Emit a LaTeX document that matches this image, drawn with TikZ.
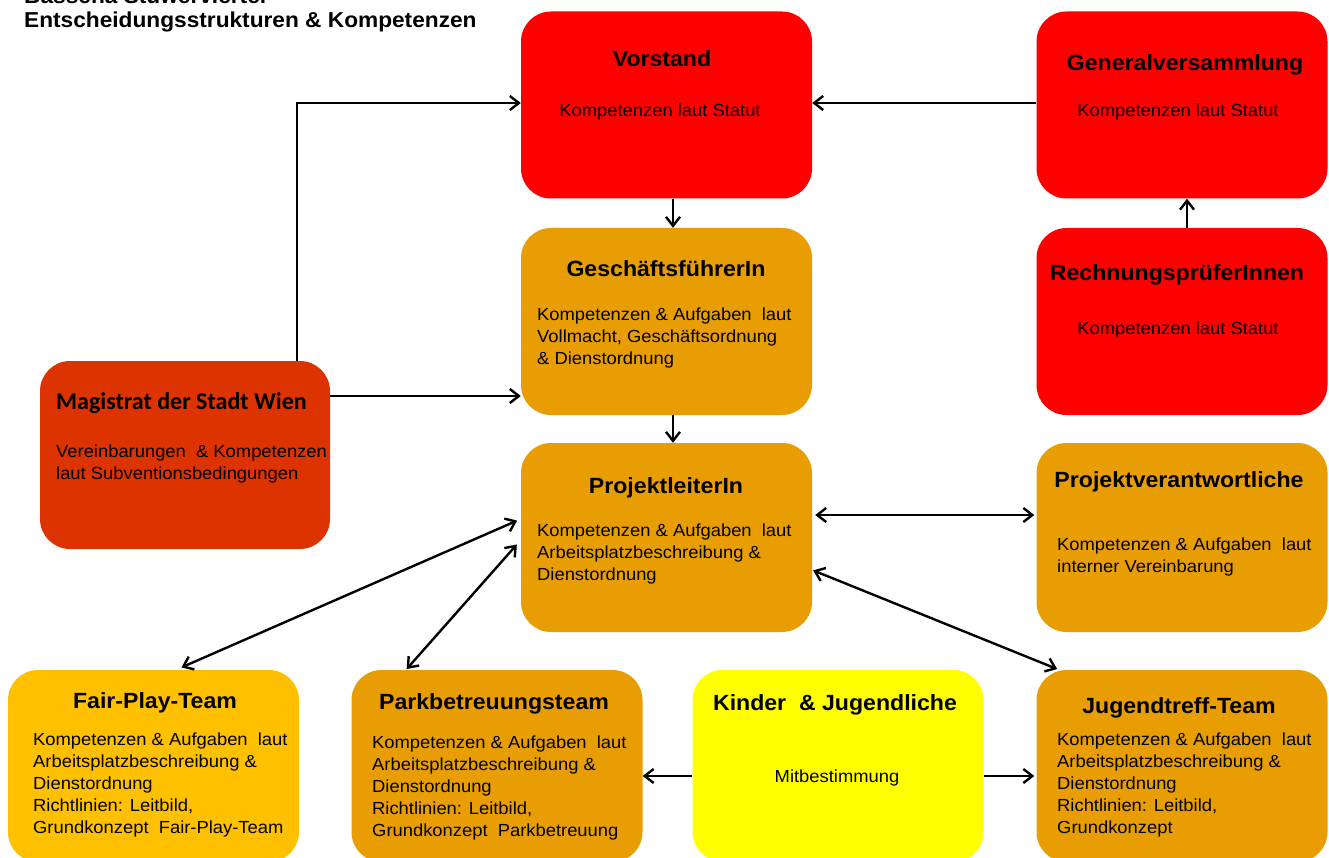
\documentclass[tikz,border=0pt]{standalone}
\usepackage{fontspec}
\setmainfont[FakeStretch=1.05]{Liberation Sans}
\newfontfamily\calfont{Carlito}
\usetikzlibrary{arrows.meta}
\definecolor{cred}{HTML}{FF0000}
\definecolor{corange}{HTML}{E89E02}
\definecolor{cfp}{HTML}{FFC000}
\definecolor{cmag}{HTML}{DC3300}
\definecolor{cyel}{HTML}{FFFF00}
\begin{document}
\begin{tikzpicture}[x=1pt,y=-1pt,
 box/.style={rounded corners=30pt, minimum width=291pt, minimum height=187pt, inner sep=0pt, draw=none},
 ttl/.style={anchor=base, inner sep=0pt, font=\fontsize{22}{26}\selectfont\bfseries},
 bdy/.style={anchor=north west, inner sep=0pt, align=left, font=\fontsize{17.5}{22}\selectfont},
 bdc/.style={anchor=base, inner sep=0pt, font=\fontsize{17.5}{22}\selectfont},
 hdr/.style={anchor=base west, inner sep=0pt, font=\fontsize{21.6}{26}\selectfont\bfseries},
 arr/.style={line width=2.4pt, -{Straight Barb[length=9pt,width=14pt]}},
 darr/.style={line width=2.4pt, {Straight Barb[length=9pt,width=14pt]}-{Straight Barb[length=9pt,width=14pt]}}]
\useasboundingbox (0,0) rectangle (1329,858);
% boxes
\node[box, fill=cred] (vor) at (666.5,105) {};
\node[box, fill=cred] (gv) at (1182,105) {};
\node[box, fill=corange] (gf) at (666.5,321.5) {};
\node[box, fill=cred] (rp) at (1182,321.5) {};
\node[box, fill=cmag, minimum width=290pt, minimum height=188pt] (mag) at (185,455) {};
\node[box, fill=corange, minimum height=189pt] (pl) at (666.5,537.5) {};
\node[box, fill=corange, minimum height=189pt] (pv) at (1182,537.5) {};
\node[box, fill=cfp, minimum height=192pt] (fp) at (153.5,766) {};
\node[box, fill=corange, minimum height=192pt] (pb) at (497,766) {};
\node[box, fill=cyel, minimum height=192pt] (kj) at (838,766) {};
\node[box, fill=corange, minimum height=192pt] (jt) at (1182,766) {};
% header
\node[hdr] (title0) at (24,4) {Bassena Stuwerviertel};
\node[hdr] (title) at (24,28) {Entscheidungsstrukturen \& Kompetenzen};
% texts
\node[ttl] (vorT) at (662,67) {Vorstand};
\node[bdc] (vorB) at (660,117) {Kompetenzen laut Statut};
\node[ttl] (gvT) at (1185,71) {Generalversammlung};
\node[bdc] (gvB) at (1178,117) {Kompetenzen laut Statut};
\node[ttl] (gfT) at (666,277) {GeschäftsführerIn};
\node[bdy] (gfB) at (537,308) {Kompetenzen \& Aufgaben \ laut\\Vollmacht, Geschäftsordnung\\\& Dienstordnung};
\node[ttl] (rpT) at (1177,280) {RechnungsprüferInnen};
\node[bdc] (rpB) at (1178,334) {Kompetenzen laut Statut};
\node[anchor=base west, inner sep=0pt, font=\calfont\fontsize{24}{28}\selectfont\bfseries] (magT) at (56,409) {Magistrat der Stadt Wien};
\node[bdy] (magB) at (56,445) {Vereinbarungen \ \& Kompetenzen\\laut Subventionsbedingungen};
\node[ttl] (plT) at (666,493) {ProjektleiterIn};
\node[bdy] (plB) at (537,524) {Kompetenzen \& Aufgaben \ laut\\Arbeitsplatzbeschreibung \&\\Dienstordnung};
\node[ttl] (pvT) at (1179,487) {Projektverantwortliche};
\node[bdy] (pvB) at (1057,538) {Kompetenzen \& Aufgaben \ laut\\interner Vereinbarung};
\node[ttl] (fpT) at (155,708) {Fair-Play-Team};
\node[bdy] (fpB) at (33,733) {Kompetenzen \& Aufgaben \ laut\\Arbeitsplatzbeschreibung \&\\Dienstordnung\\Richtlinien: Leitbild,\\Grundkonzept \ Fair-Play-Team};
\node[ttl] (pbT) at (494,709) {Parkbetreuungsteam};
\node[bdy] (pbB) at (372,736) {Kompetenzen \& Aufgaben \ laut\\Arbeitsplatzbeschreibung \&\\Dienstordnung\\Richtlinien: Leitbild,\\Grundkonzept \ Parkbetreuung};
\node[ttl] (kjT) at (835,710) {Kinder \ \& Jugendliche};
\node[bdc] (kjB) at (837,782) {Mitbestimmung};
\node[ttl] (jtT) at (1179,713) {Jugendtreff-Team};
\node[bdy] (jtB) at (1057,733) {Kompetenzen \& Aufgaben \ laut\\Arbeitsplatzbeschreibung \&\\Dienstordnung\\Richtlinien: Leitbild,\\Grundkonzept};
% connectors
\draw[arr] ([yshift=2pt]gv.west) -- ([yshift=2pt]vor.east);
\draw[arr] ([xshift=112pt]mag.north) |- ([yshift=2pt]vor.west);
\draw[arr] ([yshift=59pt]mag.east) -- ([yshift=59pt]mag.east -| gf.west);
\draw[arr] ([xshift=6.5pt]vor.south) -- ([xshift=6.5pt]gf.north);
\draw[arr] ([xshift=6.5pt]gf.south) -- ([xshift=6.5pt]pl.north);
\draw[arr] ([xshift=5pt]rp.north) -- ([xshift=5pt]gv.south);
\draw[darr, shorten <=3pt, shorten >=2pt] ([yshift=22.5pt]pl.east) -- ([yshift=22.5pt]pl.east -| pv.west);
\draw[darr, shorten <=4pt, shorten >=6pt] ([yshift=18.5pt]pl.west) -- ([xshift=22.5pt]fp.north);
\draw[darr, shorten <=6pt, shorten >=1pt] ([yshift=-2.5pt]pl.west) -- ([xshift=-91pt]pb.north);
\draw[darr, shorten <=1pt, shorten >=2pt] ([yshift=-32.5pt]pl.east) -- ([xshift=-123pt]jt.north);
\draw[arr] ([yshift=-10pt]kj.west) -- ([yshift=-10pt]kj.west -| pb.east);
\draw[arr, shorten >=2pt] ([yshift=-10pt]kj.east) -- ([yshift=-10pt]kj.east -| jt.west);
\end{tikzpicture}
\end{document}
